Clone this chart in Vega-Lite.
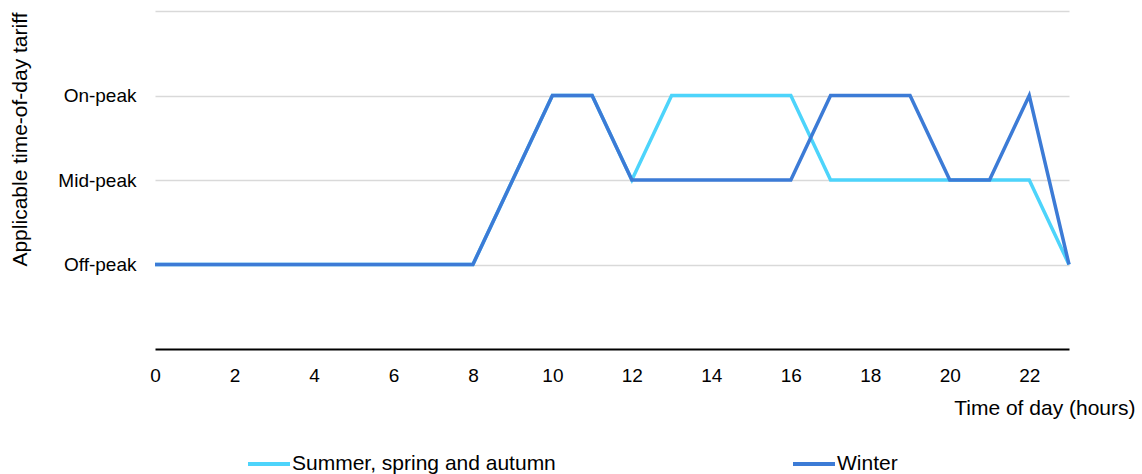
{
  "$schema": "https://vega.github.io/schema/vega-lite/v6.json",
  "width": 914,
  "height": 338,
  "autosize": {"type": "none"},
  "padding": {"left": 155, "top": 11, "right": 73, "bottom": 125},
  "background": "white",
  "config": {
    "view": {"stroke": null},
    "font": "Liberation Sans"
  },
  "data": {
    "values": [
      {"hour": 0, "season": "Summer, spring and autumn", "tariff": 0},
      {"hour": 1, "season": "Summer, spring and autumn", "tariff": 0},
      {"hour": 2, "season": "Summer, spring and autumn", "tariff": 0},
      {"hour": 3, "season": "Summer, spring and autumn", "tariff": 0},
      {"hour": 4, "season": "Summer, spring and autumn", "tariff": 0},
      {"hour": 5, "season": "Summer, spring and autumn", "tariff": 0},
      {"hour": 6, "season": "Summer, spring and autumn", "tariff": 0},
      {"hour": 7, "season": "Summer, spring and autumn", "tariff": 0},
      {"hour": 8, "season": "Summer, spring and autumn", "tariff": 0},
      {"hour": 9, "season": "Summer, spring and autumn", "tariff": 1},
      {"hour": 10, "season": "Summer, spring and autumn", "tariff": 2},
      {"hour": 11, "season": "Summer, spring and autumn", "tariff": 2},
      {"hour": 12, "season": "Summer, spring and autumn", "tariff": 1},
      {"hour": 13, "season": "Summer, spring and autumn", "tariff": 2},
      {"hour": 14, "season": "Summer, spring and autumn", "tariff": 2},
      {"hour": 15, "season": "Summer, spring and autumn", "tariff": 2},
      {"hour": 16, "season": "Summer, spring and autumn", "tariff": 2},
      {"hour": 17, "season": "Summer, spring and autumn", "tariff": 1},
      {"hour": 18, "season": "Summer, spring and autumn", "tariff": 1},
      {"hour": 19, "season": "Summer, spring and autumn", "tariff": 1},
      {"hour": 20, "season": "Summer, spring and autumn", "tariff": 1},
      {"hour": 21, "season": "Summer, spring and autumn", "tariff": 1},
      {"hour": 22, "season": "Summer, spring and autumn", "tariff": 1},
      {"hour": 23, "season": "Summer, spring and autumn", "tariff": 0},
      {"hour": 0, "season": "Winter", "tariff": 0},
      {"hour": 1, "season": "Winter", "tariff": 0},
      {"hour": 2, "season": "Winter", "tariff": 0},
      {"hour": 3, "season": "Winter", "tariff": 0},
      {"hour": 4, "season": "Winter", "tariff": 0},
      {"hour": 5, "season": "Winter", "tariff": 0},
      {"hour": 6, "season": "Winter", "tariff": 0},
      {"hour": 7, "season": "Winter", "tariff": 0},
      {"hour": 8, "season": "Winter", "tariff": 0},
      {"hour": 9, "season": "Winter", "tariff": 1},
      {"hour": 10, "season": "Winter", "tariff": 2},
      {"hour": 11, "season": "Winter", "tariff": 2},
      {"hour": 12, "season": "Winter", "tariff": 1},
      {"hour": 13, "season": "Winter", "tariff": 1},
      {"hour": 14, "season": "Winter", "tariff": 1},
      {"hour": 15, "season": "Winter", "tariff": 1},
      {"hour": 16, "season": "Winter", "tariff": 1},
      {"hour": 17, "season": "Winter", "tariff": 2},
      {"hour": 18, "season": "Winter", "tariff": 2},
      {"hour": 19, "season": "Winter", "tariff": 2},
      {"hour": 20, "season": "Winter", "tariff": 1},
      {"hour": 21, "season": "Winter", "tariff": 1},
      {"hour": 22, "season": "Winter", "tariff": 2},
      {"hour": 23, "season": "Winter", "tariff": 0}
    ]
  },
  "mark": {"type": "line", "strokeWidth": 3.5, "strokeJoin": "miter"},
  "encoding": {
    "x": {
      "field": "hour",
      "type": "quantitative",
      "scale": {"domain": [0, 23], "nice": false, "zero": false},
      "axis": {
        "title": "Time of day (hours)",
        "values": [0, 2, 4, 6, 8, 10, 12, 14, 16, 18, 20, 22],
        "grid": false,
        "ticks": false,
        "domain": true,
        "domainColor": "#000000",
        "domainWidth": 2,
        "labelFlush": false,
        "labelFontSize": 19,
        "labelColor": "#000000",
        "labelPadding": 17,
        "labelFont": "Liberation Sans",
        "titleFont": "Liberation Sans",
        "titleFontSize": 21,
        "titleFontWeight": "normal",
        "titleColor": "#000000",
        "titleX": 980,
        "titleY": 59,
        "titleAlign": "right",
        "titleBaseline": "middle",
        "titleAnchor": null
      }
    },
    "y": {
      "field": "tariff",
      "type": "quantitative",
      "scale": {"domain": [-1, 3], "nice": false, "zero": false},
      "axis": {
        "title": "Applicable time-of-day tariff",
        "values": [0, 1, 2, 3],
        "labelExpr": "datum.value == 0 ? 'Off-peak' : datum.value == 1 ? 'Mid-peak' : datum.value == 2 ? 'On-peak' : ''",
        "grid": true,
        "gridColor": "#d9d9d9",
        "gridWidth": 1.5,
        "ticks": false,
        "domain": false,
        "labelFontSize": 19,
        "labelColor": "#000000",
        "labelPadding": 19,
        "labelFont": "Liberation Sans",
        "titleFont": "Liberation Sans",
        "titleFontSize": 21,
        "titleFontWeight": "normal",
        "titleColor": "#000000",
        "titleAngle": -90,
        "titleX": -135,
        "titleY": 1,
        "titleAlign": "right",
        "titleBaseline": "middle"
      }
    },
    "color": {
      "field": "season",
      "type": "nominal",
      "scale": {
        "domain": ["Summer, spring and autumn", "Winter"],
        "range": ["#4dd4fb", "#3c7bd6"]
      },
      "legend": {
        "title": null,
        "orient": "none",
        "direction": "horizontal",
        "legendX": 91,
        "legendY": 430,
        "symbolType": "stroke",
        "symbolSize": 1764,
        "symbolStrokeWidth": 4,
        "labelFontSize": 21,
        "labelFont": "Liberation Sans",
        "labelColor": "#000000",
        "labelOffset": 0,
        "columnPadding": 229,
        "labelLimit": 400
      }
    }
  }
}
